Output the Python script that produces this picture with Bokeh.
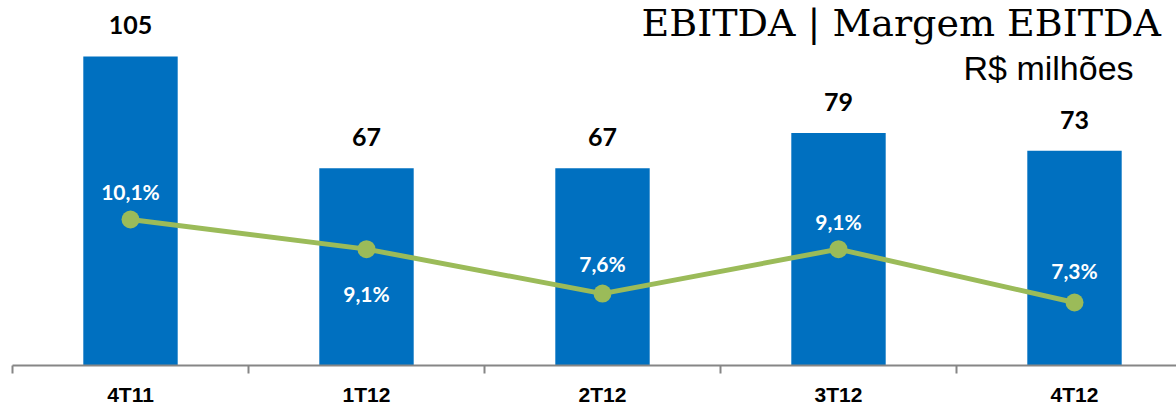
from bokeh.plotting import figure
from bokeh.models import Range1d, FixedTicker, ColumnDataSource, Label
from bokeh.core.properties import value
from bokeh.embed import file_html
from bokeh.resources import INLINE

categories = ["4T11", "1T12", "2T12", "3T12", "4T12"]
ebitda = [105, 67, 67, 79, 73]
margem = [10.1, 9.1, 7.6, 9.1, 7.3]

# style: vertical pixel offsets of margin labels relative to points
margem_label_dy = [-28, 44, -30, -28, -32]

BLUE = "#0070C0"
GREEN = "#9BBB59"
FONT = "Lato"

W, H = 1176, 410
left, bottom = 12, 45
frame_h = H - bottom
px_per_unit = 2.943
px_per_pct = 29.64

xs = [i + 0.5 for i in range(len(categories))]
x_end = (W - left) / 236.0
y_top = frame_h / px_per_unit
m_bot = margem[0] - (frame_h - 219) / px_per_pct
m_top = m_bot + frame_h / px_per_pct

p = figure(width=W, height=H, output_backend="svg", toolbar_location=None,
           x_range=Range1d(0, x_end), y_range=Range1d(0, y_top),
           y_axis_location=None, min_border_left=left, min_border_right=0,
           min_border_top=0, min_border_bottom=bottom)
p.extra_y_ranges = {"m": Range1d(m_bot, m_top)}
p.outline_line_color = None
p.xgrid.visible = False
p.ygrid.visible = False
p.background_fill_color = "white"
p.border_fill_color = "white"

src = ColumnDataSource(dict(
    x=xs, cat=categories, ebitda=ebitda, margem=margem,
    elab=[str(v) for v in ebitda],
    mlab=[("%.1f" % v).replace(".", ",") + "%" for v in margem],
    mdy=margem_label_dy,
))

p.vbar(x="x", top="ebitda", width=0.4, bottom=0, source=src,
       fill_color=BLUE, line_color=None)
p.text(x="x", y="ebitda", text="elab", source=src, y_offset=-31,
       text_align="center", text_baseline="middle",
       text_font=value(FONT), text_font_style="bold", text_font_size="25px",
       text_color="black")

p.line(x="x", y="margem", source=src, y_range_name="m",
       line_color=GREEN, line_width=5)
p.scatter(x="x", y="margem", source=src, y_range_name="m",
          size=18, fill_color=GREEN, line_color=None)
p.text(x="x", y="margem", text="mlab", source=src, y_range_name="m",
       y_offset="mdy", text_align="center", text_baseline="middle",
       text_font=value(FONT), text_font_style="bold", text_font_size="21px",
       text_color="white")

ax = p.xaxis[0]
ax.ticker = FixedTicker(ticks=xs, minor_ticks=list(range(len(categories) + 1)))
ax.major_label_overrides = {x: c for x, c in zip(xs, categories)}
ax.major_tick_line_color = None
ax.major_tick_out = 0
ax.major_tick_in = 0
ax.minor_tick_in = 0
ax.minor_tick_out = 8
ax.minor_tick_line_color = "#868686"
ax.minor_tick_line_width = 2
ax.axis_line_color = "#868686"
ax.axis_line_width = 2
ax.major_label_standoff = 9
ax.major_label_text_font = "Liberation Sans"
ax.major_label_text_font_style = "bold"
ax.major_label_text_font_size = "21px"
ax.major_label_text_color = "black"

title = Label(x=(641 - left) / 236.0, y=(frame_h - 22) / px_per_unit,
              text="EBITDA | Margem EBITDA", text_font="DejaVu Serif",
              text_font_size="38px", text_color="black",
              text_align="left", text_baseline="alphabetic")
sub = Label(x=(963 - left) / 236.0, y=(frame_h - 67) / px_per_unit,
            text="R$ milhões", text_font="Liberation Sans",
            text_font_size="34px", text_color="black",
            text_align="left", text_baseline="alphabetic")
p.add_layout(title)
p.add_layout(sub)

open("out.html", "w").write(file_html(p, INLINE))
